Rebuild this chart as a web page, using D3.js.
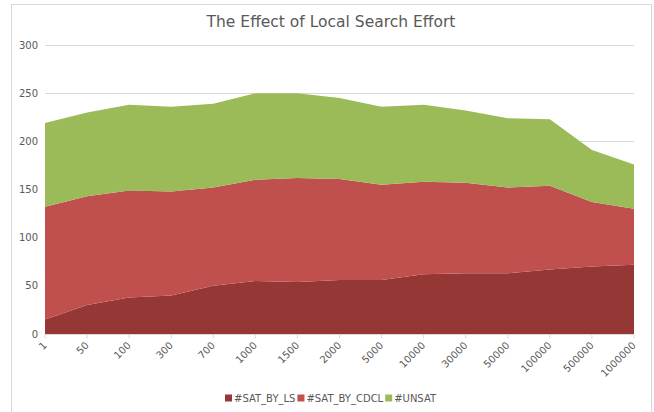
<!DOCTYPE html>
<html>
<head>
<meta charset="utf-8">
<script src="https://cdn.jsdelivr.net/npm/d3@7"></script>
<style>
  body { margin: 0; background: #fff; }
  text { font-family: "DejaVu Sans", sans-serif; fill: #595959; }
</style>
</head>
<body>
<script>
// local search effort steps
const categories = ['1', '50', '100', '300', '700', '1000', '1500', '2000', '5000', '10000', '30000', '50000', '100000', '500000', '1000000'];
const satByLS   = [15, 30, 38, 40, 50, 55, 54, 56, 56, 62, 63, 63, 67, 70, 72];
const satByCDCL = [117, 113, 111, 108, 102, 105, 108, 105, 99, 96, 94, 89, 87, 67, 58];
const unsat     = [87, 87, 89, 88, 87, 90, 88, 84, 81, 80, 75, 72, 69, 54, 46];
const seriesNames = ['#SAT_BY_LS', '#SAT_BY_CDCL', '#UNSAT'];
const yTicks = [0, 50, 100, 150, 200, 250, 300];

const width = 654, height = 412;
const margin = { top: 45, right: 20, bottom: 78, left: 45 };

const rows = categories.map((c, i) => ({
  cat: c,
  '#SAT_BY_LS': satByLS[i],
  '#SAT_BY_CDCL': satByCDCL[i],
  '#UNSAT': unsat[i]
}));

const series = d3.stack().keys(seriesNames)(rows);

const x = d3.scalePoint()
  .domain(categories)
  .range([margin.left, width - margin.right]);

const y = d3.scaleLinear()
  .domain([0, 300])
  .range([height - margin.bottom, margin.top]);

const color = d3.scaleOrdinal()
  .domain(seriesNames)
  .range(['#953735', '#c0504d', '#9bbb59']);

const svg = d3.select("body").append("svg")
  .attr("width", width)
  .attr("height", height);

// chart border
svg.append("rect")
  .attr("x", 11.5).attr("y", 4.5)
  .attr("width", 640).attr("height", 412)
  .attr("fill", "none")
  .attr("stroke", "#d9d9d9");

svg.append("text")
  .attr("x", 331).attr("y", 27)
  .attr("text-anchor", "middle")
  .style("font-size", "15.5px")
  .text("The Effect of Local Search Effort");

// gridlines
svg.append("g")
  .selectAll("line")
  .data(yTicks.slice(1))
  .join("line")
  .attr("x1", margin.left).attr("x2", width - margin.right)
  .attr("y1", d => Math.round(y(d)) + 0.5).attr("y2", d => Math.round(y(d)) + 0.5)
  .attr("stroke", "#d9d9d9");

svg.append("g")
  .selectAll("text")
  .data(yTicks)
  .join("text")
  .attr("x", 38).attr("y", d => y(d))
  .attr("dy", "0.35em")
  .attr("text-anchor", "end")
  .style("font-size", "10px")
  .text(d => d);

const area = d3.area()
  .x(d => x(d.data.cat))
  .y0(d => y(d[0]))
  .y1(d => y(d[1]));

svg.append("g")
  .selectAll("path")
  .data(series)
  .join("path")
  .attr("fill", d => color(d.key))
  .attr("d", area);

// x axis
const axisY = Math.round(y(0)) + 0.5;
svg.append("line")
  .attr("x1", margin.left).attr("x2", width - margin.right)
  .attr("y1", axisY).attr("y2", axisY)
  .attr("stroke", "#d9d9d9");

const xt = svg.append("g")
  .selectAll("g")
  .data(categories)
  .join("g")
  .attr("transform", d => `translate(${x(d)},${axisY})`);

xt.append("line")
  .attr("y2", 4)
  .attr("stroke", "#d9d9d9");

xt.append("text")
  .attr("transform", "translate(0,9) rotate(-45)")
  .attr("text-anchor", "end")
  .attr("dy", "0.35em")
  .style("font-size", "10px")
  .text(d => d);

// legend
const legend = svg.append("g")
  .attr("transform", "translate(225,398)");
let lx = 0;
seriesNames.forEach(name => {
  const g = legend.append("g").attr("transform", `translate(${lx},0)`);
  g.append("rect")
    .attr("x", 0).attr("y", -3.5)
    .attr("width", 7).attr("height", 7)
    .attr("fill", color(name));
  const t = g.append("text")
    .attr("x", 9).attr("dy", "0.35em")
    .style("font-size", "10px")
    .text(name);
  lx += 9 + t.node().getComputedTextLength() + 2;
});
</script>
</body>
</html>
